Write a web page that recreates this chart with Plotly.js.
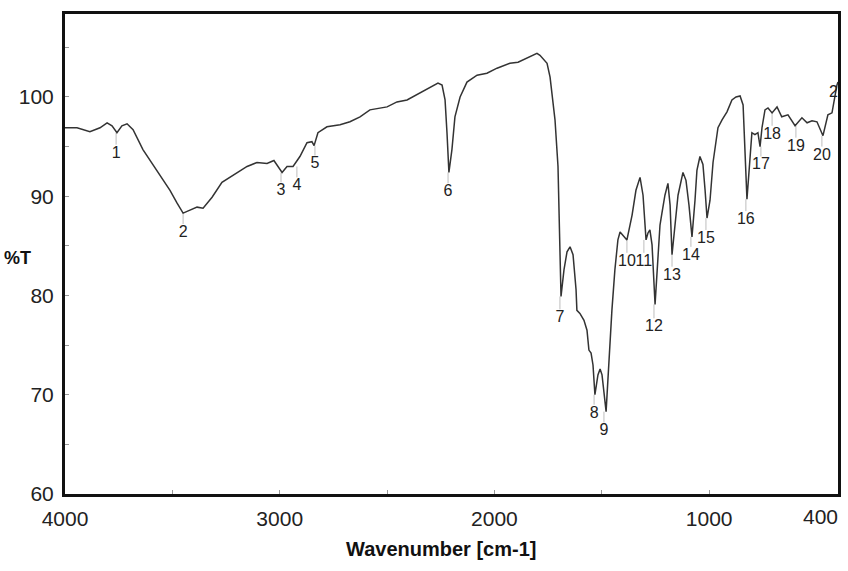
<!DOCTYPE html>
<html>
<head>
<meta charset="utf-8">
<script src="https://cdn.plot.ly/plotly-3.0.1.min.js"></script>
<style>
  html, body { margin: 0; padding: 0; background: #fff; }
  #chart { width: 848px; height: 571px; }
</style>
</head>
<body>
<div id="chart"></div>
<script>
// Spectrum (wavenumber in cm-1, transmittance in %T)
const wavenumber = [4000,3944,3884,3837,3804,3781,3758,3735,3711,3683,3637,3572,3511,3478,3450,3418,3385,3357,3315,3269,
  3218,3152,3106,3059,3027,2989,2966,2938,2906,2873,2850,2840,2822,2780,2719,2673,2626,2580,2500,2454,
  2407,2347,2300,2263,2244,2230,2221,2212,2198,2184,2160,2128,2081,2035,1988,1928,1890,1848,1802,1788,
  1755,1741,1718,1704,1695,1690,1676,1662,1648,1634,1620,1616,1602,1583,1569,1560,1550,1541,1532,1518,
  1508,1499,1480,1467,1453,1439,1425,1415,1397,1383,1359,1341,1322,1308,1294,1285,1276,1266,1252,1238,
  1229,1220,1206,1192,1182,1173,1159,1145,1122,1108,1094,1080,1066,1057,1043,1029,1019,1010,996,982,
  959,940,917,894,875,856,842,833,824,814,801,787,773,763,754,740,726,707,684,662,
  633,600,568,544,521,498,470,447,428,405,400];
const transmittance = [96.9,96.9,96.5,96.9,97.4,97.1,96.4,97.1,97.3,96.7,94.7,92.6,90.6,89.3,88.3,88.6,88.9,88.8,89.9,91.4,
  92.1,93.0,93.4,93.3,93.6,92.4,93.0,93.0,94.0,95.4,95.5,95.1,96.4,97.0,97.2,97.5,98.0,98.7,99.0,99.5,
  99.7,100.4,100.9,101.4,101.2,99.7,96.4,92.4,94.7,98.0,100.0,101.5,102.2,102.4,102.9,103.4,103.5,103.9,104.4,104.2,
  103.4,102.0,97.7,93.0,85.6,79.9,82.6,84.4,84.9,84.1,80.6,78.5,78.2,77.5,76.5,74.5,74.2,73.0,70.0,72.0,
  72.6,72.0,68.3,73.5,78.5,82.6,85.6,86.4,86.0,85.6,88.1,90.6,91.9,90.1,85.6,86.3,86.6,85.1,79.1,83.6,
  87.1,88.3,90.1,91.3,89.1,84.1,87.1,90.1,92.4,91.6,89.1,85.9,89.6,92.6,94.0,93.2,90.6,87.8,89.6,93.4,
  96.9,97.7,98.5,99.7,100.0,100.1,99.2,94.7,89.7,92.6,96.4,96.2,96.4,95.0,96.9,98.7,98.9,98.4,99.0,98.0,
  98.2,97.1,97.9,97.4,97.6,97.5,96.1,98.2,98.4,101.2,101.5];

// Numbered peaks
const peakNumbers = ['1','2','3','4','5','6','7','8','9','10','11','12','13','14','15','16','17','18','19','20','21'];
const peakWavenumber = [3762,3450,2994,2920,2836,2216,1695,1536,1490,1383,1304,1257,1173,1085,1015,829,759,707,596,475,400];
const peakMinT = [96.4,88.3,92.4,93.0,95.1,92.4,79.9,70.0,68.3,85.6,85.6,79.1,84.1,85.9,87.8,89.7,95.0,98.4,97.1,96.1,null];
const peakLabelT = [94.3,86.3,90.5,91.0,93.2,90.4,77.7,68.1,66.3,83.4,83.4,76.8,82.0,84.0,85.7,87.6,93.1,96.2,95.0,94.1,100.4];

// Axis ticks
const xTickVals = [4000,3500,3000,2500,2000,1500,1000];
const xTickText = ['4000','','3000','','2000','','1000'];
const yTickVals = [60,65,70,75,80,85,90,95,100,105];
const yTickText = ['60','','70','','80','','90','','100',''];

// marker lines from each peak minimum down towards its number
const mx = [], my = [];
for (let i = 0; i < peakNumbers.length; i++) {
  if (peakMinT[i] === null) continue;
  const top = peakMinT[i];
  const bottom = peakLabelT[i] + 0.9;
  if (top > bottom) {
    mx.push(peakWavenumber[i], peakWavenumber[i], null);
    my.push(top, bottom, null);
  }
}

const FONT = 'Liberation Sans, Arial, Helvetica, sans-serif';

const traces = [
  {
    x: mx, y: my, type: 'scatter', mode: 'lines',
    line: { color: '#bdbdbd', width: 1 },
    hoverinfo: 'skip', showlegend: false, cliponaxis: true
  },
  {
    x: wavenumber, y: transmittance, type: 'scatter', mode: 'lines',
    line: { color: '#333', width: 1.5 },
    showlegend: false
  },
  {
    x: peakWavenumber, y: peakLabelT, text: peakNumbers,
    type: 'scatter', mode: 'text', textposition: 'middle center',
    textfont: { family: FONT, size: 16, color: '#222' },
    cliponaxis: true, hoverinfo: 'skip', showlegend: false
  }
];

const layout = {
  width: 848, height: 571,
  margin: { l: 65, r: 10, t: 14, b: 77, pad: 0 },
  paper_bgcolor: '#fff', plot_bgcolor: '#fff',
  showlegend: false,
  font: { family: FONT, color: '#222' },
  xaxis: {
    range: [4000, 400],
    showgrid: false, zeroline: false,
    showline: true, linecolor: '#111', linewidth: 3, mirror: true,
    ticks: 'inside', ticklen: 4, tickwidth: 1, tickcolor: '#999',
    tickvals: xTickVals, ticktext: xTickText,
    tickfont: { family: FONT, size: 21, color: '#222' },
    ticklabelstandoff: 4
  },
  yaxis: {
    range: [60.0, 108.36],
    showgrid: false, zeroline: false,
    showline: true, linecolor: '#111', linewidth: 3, mirror: true,
    ticks: 'inside', ticklen: 4, tickwidth: 1, tickcolor: '#999',
    tickvals: yTickVals, ticktext: yTickText,
    tickfont: { family: FONT, size: 21, color: '#222' },
    ticklabelstandoff: 4
  },
  annotations: [
    {
      text: 'Wavenumber [cm-1]', xref: 'paper', yref: 'paper',
      x: 0.4864, y: -0.1146, xanchor: 'center', yanchor: 'middle',
      showarrow: false, font: { family: FONT, size: 20, color: '#111', weight: 'bold' }
    },
    {
      text: '%T', xref: 'paper', yref: 'paper',
      x: -0.0815, y: 0.4917, xanchor: 'left', yanchor: 'middle',
      showarrow: false, font: { family: FONT, size: 18, color: '#111', weight: 'bold' }
    },
    {
      text: '400', xref: 'paper', yref: 'paper',
      x: 1.003, y: -0.046, xanchor: 'right', yanchor: 'middle',
      showarrow: false, font: { family: FONT, size: 21, color: '#222' }
    }
  ]
};

Plotly.newPlot('chart', traces, layout, { staticPlot: true, displayModeBar: false });
</script>
</body>
</html>
